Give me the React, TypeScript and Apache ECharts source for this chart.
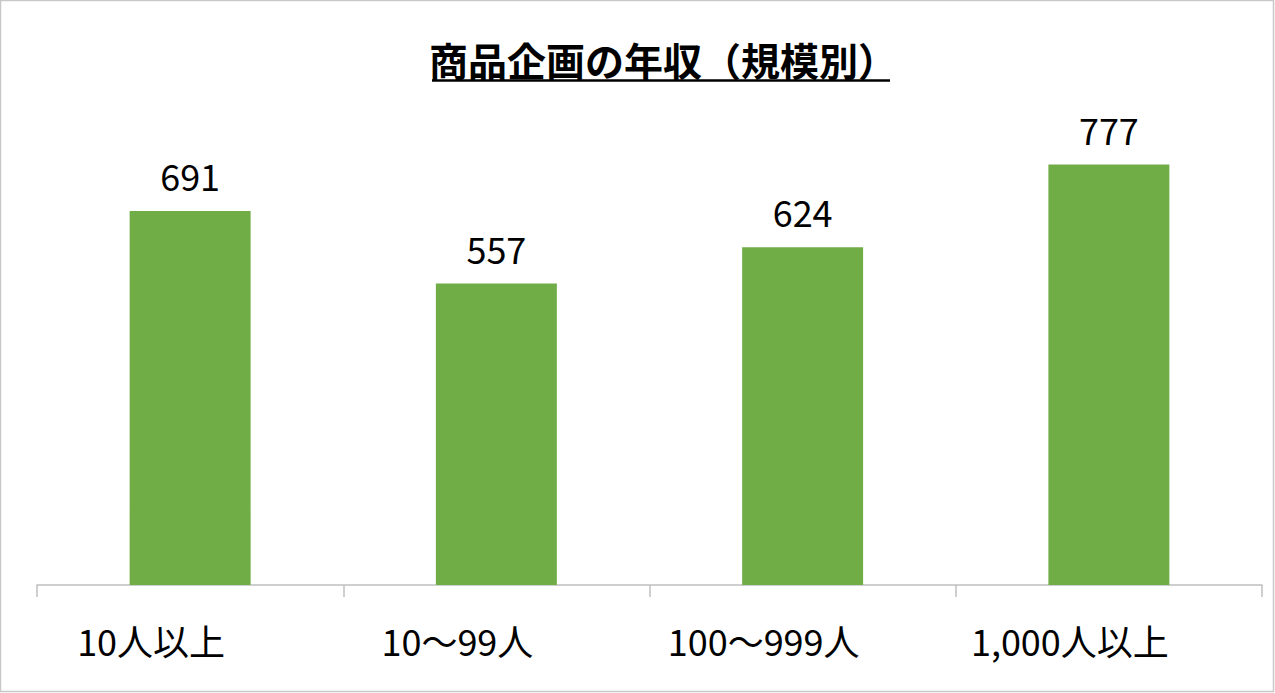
import { useEffect, useRef } from 'react';
import * as echarts from 'echarts';

const categories = ['10人以上', '10〜99人', '100〜999人', '1,000人以上'];
const salaries = [691, 557, 624, 777];
const titleText = '商品企画の年収（規模別）';

const FONT = '"Noto Sans CJK JP", "Noto Sans", sans-serif';

export default function App() {
  const ref = useRef<HTMLDivElement>(null);

  useEffect(() => {
    if (!ref.current) return;
    const chart = echarts.init(ref.current, null, { renderer: 'svg' });
    chart.setOption({
      animation: false,
      backgroundColor: '#fff',
      grid: { left: 37, right: 13, top: 98, bottom: 108 },
      graphic: [
        {
          type: 'rect',
          shape: { x: 0.5, y: 0.5, width: 1273, height: 691 },
          style: { fill: 'none', stroke: '#c8c8c8', lineWidth: 1.5 },
          silent: true,
        },
        {
          type: 'text',
          x: 663,
          y: 59,
          style: {
            text: titleText,
            font: `bold 39px ${FONT}`,
            fill: '#000',
            textAlign: 'center',
            textVerticalAlign: 'middle',
          },
        },
        {
          type: 'line',
          shape: { x1: 432, y1: 80.5, x2: 890, y2: 80.5 },
          style: { stroke: '#000', lineWidth: 2.5 },
        },
      ],
      xAxis: {
        type: 'category',
        data: categories,
        axisLine: { lineStyle: { color: '#bfbfbf', width: 1.5 } },
        axisTick: { show: true, length: 12, lineStyle: { color: '#bfbfbf', width: 1.5 } },
        axisLabel: {
          color: '#000',
          fontSize: 36,
          fontFamily: FONT,
          margin: 37,
          padding: [0, 78, 0, 0],
        },
      },
      yAxis: {
        type: 'value',
        min: 0,
        max: 900,
        show: false,
        splitLine: { show: false },
      },
      series: [
        {
          type: 'bar',
          data: salaries,
          barWidth: '39.5%',
          itemStyle: { color: '#70AD47' },
          label: {
            show: true,
            position: 'top',
            distance: 18,
            color: '#000',
            fontSize: 36,
            fontFamily: FONT,
          },
        },
      ],
    });
    return () => chart.dispose();
  }, []);

  return (
    <div
      ref={ref}
      style={{ position: 'fixed', left: 0, top: 0, width: 1275, height: 693 }}
    />
  );
}
